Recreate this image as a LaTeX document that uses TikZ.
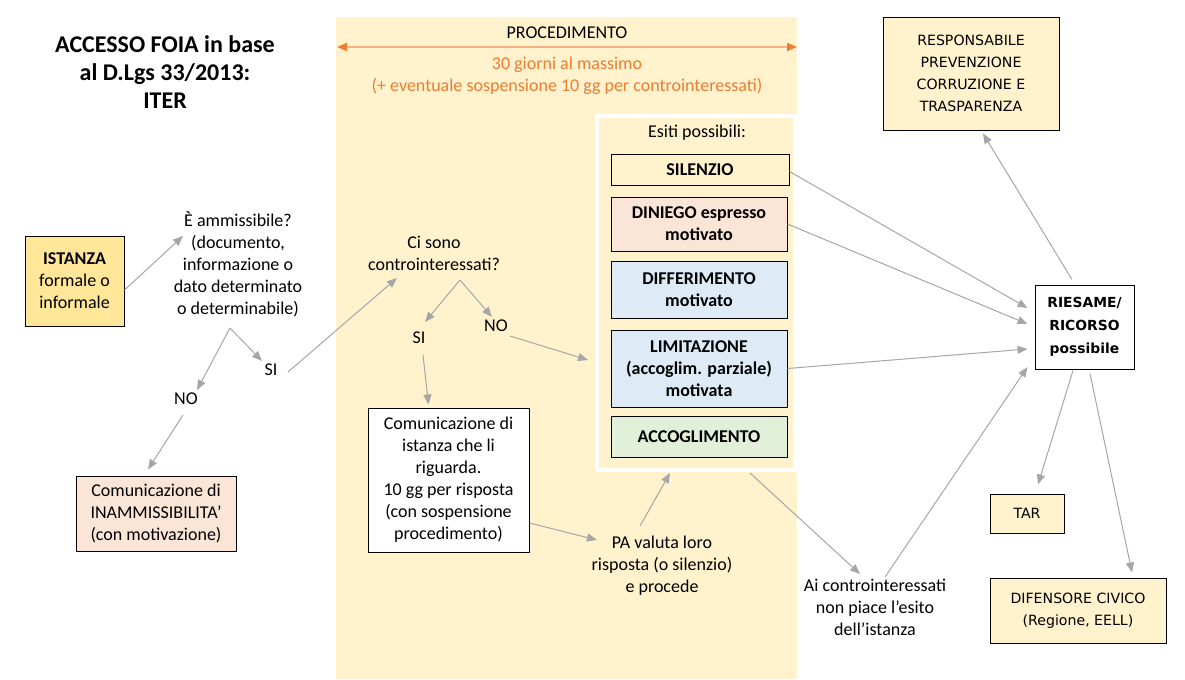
\documentclass[tikz,border=0pt]{standalone}
\usepackage{fontspec}
\setmainfont{Carlito}
\newfontfamily\verdana{DejaVu Sans}
\usetikzlibrary{arrows.meta}

\definecolor{band}{HTML}{FFF2CC}
\definecolor{gold}{HTML}{FFE699}
\definecolor{salmon}{HTML}{FBE5D6}
\definecolor{paleblue}{HTML}{DEEBF7}
\definecolor{palegreen}{HTML}{E2F0D9}
\definecolor{arrowgray}{HTML}{A6A6A6}
\definecolor{orangetxt}{HTML}{ED7D31}
\definecolor{orangeline}{HTML}{F4B183}

\begin{document}
\begin{tikzpicture}[x=0.75pt, y=-0.75pt,
    txt/.style={inner sep=0pt, align=center, font=\fontsize{13.5}{16.5}\selectfont},
    box/.style={txt, draw, line width=0.75pt},
    esito/.style={box, minimum width=132pt, font=\fontsize{13.5}{16.5}\selectfont\bfseries},
    vbox/.style={box, fill=band, font=\verdana\fontsize{10.6}{16.5}\selectfont},
    conn/.style={draw=arrowgray, line width=0.75pt, -{Triangle[length=7.5pt,width=6pt]}}]
  \useasboundingbox (0,0) rectangle (1185,679);

  % fascia del procedimento
  \fill[band] (336,17) rectangle (797,679);
  \node[txt] (proc) at (567,33) {PROCEDIMENTO};
  \draw[orangeline, line width=1.5pt, {Triangle[length=7.5pt,width=6pt,color=orangetxt]}-{Triangle[length=7.5pt,width=6pt,color=orangetxt]}] (337,47) -- (797,47);
  \node[txt, text=orangetxt] (tempi) at (567,76) {30 giorni al massimo\\(+ eventuale sospensione 10 gg per controinteressati)};

  % titolo
  \node[txt, font=\fontsize{18}{21}\selectfont\bfseries] (titolo) at (165,72) {ACCESSO FOIA in base\\al D.Lgs 33/2013:\\ITER};

  % istanza e ammissibilita'
  \node[box, fill=gold, minimum width=74.25pt, minimum height=67.5pt] (istanza) at (74.5,281) {\textbf{ISTANZA}\\formale o\\informale};
  \node[txt] (amm) at (238,264) {È ammissibile?\\(documento,\\informazione o\\dato determinato\\o determinabile)};
  \node[txt] (no1) at (186,399) {NO};
  \node[txt] (si1) at (271,370) {SI};
  \node[box, fill=salmon, minimum width=120pt, minimum height=56.25pt] (inamm) at (156,513.5) {Comunicazione di\\INAMMISSIBILITA’\\(con motivazione)};

  % controinteressati
  \node[txt] (ci) at (434,253) {Ci sono\\controinteressati?};
  \node[txt] (si2) at (419,338) {SI};
  \node[txt] (no2) at (496,326) {NO};
  \node[box, fill=white, minimum width=120.75pt, minimum height=108pt] (comm) at (448.5,480) {Comunicazione di\\istanza che li\\riguarda.\\10 gg per risposta\\(con sospensione\\procedimento)};
  \node[txt] (pa) at (662,566) {PA valuta loro\\risposta (o silenzio)\\e procede};

  % esiti possibili
  \node[draw=white, line width=3pt, fill=band, minimum width=148.5pt, minimum height=265.5pt] (esiti) at (696,293) {};
  \node[txt] (esititit) at (697,133) {Esiti possibili:};
  \node[esito, fill=band, minimum width=133.5pt, minimum height=23.25pt] (silenzio) at (700,169.5) {SILENZIO};
  \node[esito, fill=salmon, minimum height=40.5pt] (diniego) at (699,224) {DINIEGO espresso\\motivato};
  \node[esito, fill=paleblue, minimum height=42.75pt] (differ) at (699,289.5) {DIFFERIMENTO\\motivato};
  \node[esito, fill=paleblue, minimum height=57.75pt] (limit) at (699,368.5) {LIMITAZIONE\\(accoglim. parziale)\\motivata};
  \node[esito, fill=palegreen, minimum height=30.75pt] (accogl) at (699,436.5) {ACCOGLIMENTO};

  \node[txt] (ai) at (875,607) {Ai controinteressati\\non piace l’esito\\dell’istanza};

  % riesame e sbocchi
  \node[box, fill=white, minimum width=74.25pt, minimum height=63pt, font=\verdana\fontsize{10.4}{17.25}\selectfont\bfseries] (riesame) at (1084.5,327) {RIESAME/\\RICORSO\\possibile};
  \node[vbox, minimum width=132pt, minimum height=84.75pt] (resp) at (971,73.5) {RESPONSABILE\\PREVENZIONE\\CORRUZIONE E\\TRASPARENZA};
  \node[vbox, minimum width=55.5pt, minimum height=29.25pt] (tar) at (1027,513.5) {TAR};
  \node[vbox, minimum width=132pt, minimum height=48.75pt] (dif) at (1078,610.5) {DIFENSORE CIVICO\\(Regione, EELL)};

  % frecce
  \draw[conn] ([shift={(0,9)}]istanza.east) -- ([shift={(-55,-28)}]amm.center);
  \draw[conn] ([shift={(-8,64)}]amm.center) -- ([shift={(11,-9)}]no1.center);
  \draw[conn] ([shift={(-8,64)}]amm.center) -- ([shift={(-9,-9)}]si1.center);
  \draw[conn] ([shift={(-3,16)}]no1.center) -- ([shift={(-8,-6)}]inamm.north);
  \draw[conn] ([shift={(17,2)}]si1.center) -- ([shift={(-37,25)}]ci.center);
  \draw[conn] ([shift={(26,27)}]ci.center) -- ([shift={(6,-16)}]si2.center);
  \draw[conn] ([shift={(26,27)}]ci.center) -- ([shift={(-4,-9)}]no2.center);
  \draw[conn] ([shift={(14,10)}]no2.center) -- ([shift={(-7,67)}]esiti.west);
  \draw[conn] ([shift={(4,17)}]si2.center) -- ([shift={(-20,-3)}]comm.north);
  \draw[conn] ([shift={(0,43)}]comm.east) -- ([shift={(-65,-26)}]pa.center);
  \draw[conn] ([shift={(-22,-40)}]pa.center) -- ([shift={(-26,1)}]esiti.south);
  \draw[conn] ([shift={(54,1)}]esiti.south) -- ([shift={(-15,-33)}]ai.center);
  \draw[conn] ([shift={(10,-30)}]ai.center) -- ([shift={(-7,40)}]riesame.west);
  \draw[conn] ([shift={(0,2)}]silenzio.east) -- ([shift={(-7,-19)}]riesame.west);
  \draw[conn] (diniego.east) -- ([shift={(-7,-3)}]riesame.west);
  \draw[conn] (limit.east) -- ([shift={(-7,22)}]riesame.west);
  \draw[conn] ([shift={(-12.5,-5)}]riesame.north) -- ([shift={(12,3)}]resp.south);
  \draw[conn] ([shift={(-11.5,1)}]riesame.south) -- ([shift={(11,-9)}]tar.north);
  \draw[conn] ([shift={(5.5,4)}]riesame.south) -- ([shift={(54,-5)}]dif.north);
\end{tikzpicture}
\end{document}
